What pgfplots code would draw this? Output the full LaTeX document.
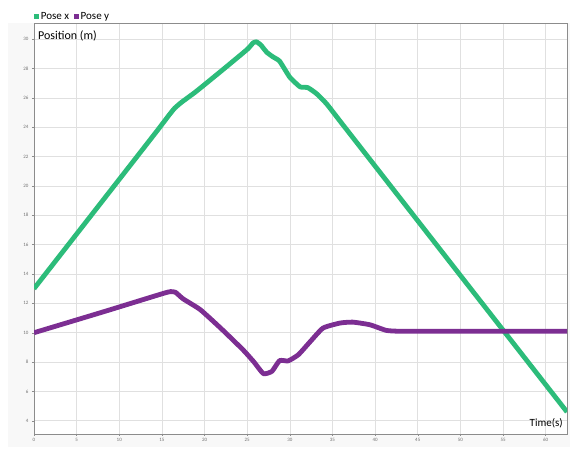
\documentclass[border=0pt]{standalone}
\usepackage{fontspec}
\setmainfont{Carlito}
\usepackage{pgfplots}
\pgfplotsset{compat=1.18}
\definecolor{poseGreen}{RGB}{44,188,122}
\definecolor{posePurple}{RGB}{124,46,146}
\definecolor{bgGray}{RGB}{248,248,248}
\begin{document}
\begin{tikzpicture}[x=1pt,y=1pt]
\path[use as bounding box] (-34,-23) rectangle (536,434);
\fill[bgGray] (-26,-13) rectangle (536,411);
\begin{axis}[
  at={(0,0)}, anchor=south west,
  scale only axis, width=533pt, height=411pt,
  xmin=0, xmax=62.5, ymin=3.1, ymax=31.1,
  xtick={0,5,...,60}, ytick={4,6,...,30},
  axis background/.style={fill=white},
  grid=major,
  major grid style={draw=black!12, line width=0.6pt},
  axis line style={draw=black!45, line width=0.8pt},
  tick style={draw=black!45, line width=0.4pt},
  tick align=outside, major tick length=2pt,
  xtick pos=bottom, ytick pos=left,
  /pgf/number format/assume math mode=true,
  tick label style={font=\fontsize{5}{6}\selectfont, text=black!55},
  xticklabel style={yshift=1pt},
  legend columns=2,
  legend style={at={(0,1)}, anchor=south west, xshift=-1pt, yshift=-1pt, draw=none, fill=none,
    font=\fontsize{11}{12}\selectfont, inner sep=1pt,
    /tikz/every even column/.append style={column sep=3pt}},
  legend image code/.code={\fill[#1, line width=0pt] (0pt,-2.3pt) rectangle (4.6pt,2.3pt);},
  legend cell align=left,
]
\addplot[color=poseGreen, line width=4.8pt, line join=round, smooth, tension=0.25] coordinates {
(0,13.0) (14,23.43) (15.8,24.8) (16.5,25.3) (17.3,25.7) (19,26.43) (22,27.85) (25,29.3) (25.7,29.75) (26.1,29.82) (26.6,29.6)
(27.3,29.1) (28.0,28.8) (28.8,28.5) (30.0,27.4) (31.2,26.75) (32.1,26.7) (33.1,26.3) (34.3,25.6)
(36,24.33) (40,21.35) (50,13.9) (62.5,4.6)
};
\addlegendentry{Pose x}
\addplot[color=posePurple, line width=4.8pt, line join=round, smooth, tension=0.3] coordinates {
(0,10.0) (8,11.4) (15,12.65) (16,12.8) (16.6,12.75) (17.5,12.3) (19.5,11.57) (22,10.25) (24.5,8.84)
(25.8,8.0) (26.9,7.21) (27.9,7.37) (28.8,8.1) (29.8,8.08) (31.0,8.5) (32.4,9.4) (33.9,10.32)
(35.9,10.66) (37.4,10.72) (39.4,10.54) (41.3,10.16) (43,10.1) (50,10.1) (62.5,10.1)
};
\addlegendentry{Pose y}
\node[anchor=north west, font=\fontsize{12}{13}\selectfont, inner sep=0pt] at (rel axis cs:0,1) [xshift=4pt, yshift=-8pt] {Position (m)};
\node[anchor=south east, font=\fontsize{11}{12}\selectfont, inner sep=0pt] at (rel axis cs:1,0) [xshift=-4pt, yshift=6pt] {Time(s)};
\end{axis}
\end{tikzpicture}
\end{document}
